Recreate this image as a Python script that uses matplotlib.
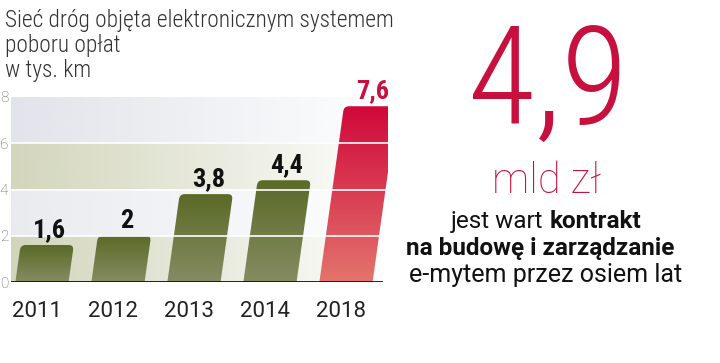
import numpy as np
import matplotlib.pyplot as plt
from matplotlib.patches import FancyBboxPatch
from matplotlib.transforms import Affine2D
from matplotlib.colors import LinearSegmentedColormap, to_rgb

# data
years = ['2011', '2012', '2013', '2014', '2018']
values = [1.6, 2.0, 3.8, 4.4, 7.6]
value_labels = ['1,6', '2', '3,8', '4,4', '7,6']
yticks = [0, 2, 4, 6, 8]
title_lines = ['Sieć dróg objęta elektronicznym systemem', 'poboru opłat', 'w tys. km']

CRIMSON = '#c8103e'
NARROW = ['Roboto Condensed', 'Liberation Sans Narrow', 'Roboto', 'DejaVu Sans']
PLAIN = ['Roboto', 'DejaVu Sans']

FW, FH = 720, 363


def fx(x):
    return x / FW


def fy(y):
    return 1 - y / FH


fig = plt.figure(figsize=(7.2, 3.63), dpi=100)
ax = fig.add_axes([fx(11), fy(282), 377 / FW, 185 / FH])
xlim = (-0.408, 4.553)
ax.set_xlim(*xlim)
ax.set_ylim(0, 8)
for s in ax.spines.values():
    s.set_visible(False)

# background bands fading to white on the right
bands = [(0, 2, '#d2d5bc'), (2, 4, '#e9ebef'), (4, 6, '#d3d6bc'), (6, 8, '#e1e4ea')]
fade = np.linspace(1, 0, 256) ** 0.9
for lo, hi, col in bands:
    rgba = np.ones((1, 256, 4))
    rgba[..., :3] = to_rgb(col)
    rgba[..., 3] = fade
    ax.imshow(rgba, extent=[xlim[0], xlim[1] - 0.05, lo, hi], aspect='auto',
              origin='lower', zorder=0, interpolation='bilinear')

# slanted bars: skew x by y in data space
px_x = 377 / (xlim[1] - xlim[0])
px_y = 185 / 8
k = 0.14 * px_y / px_x
skew = Affine2D(np.array([[1, k, 0], [0, 1, 0], [0, 0, 1]])) + ax.transData

green = LinearSegmentedColormap.from_list('g', ['#868c62', '#5a6a27'])
red = LinearSegmentedColormap.from_list('r', ['#e3746d', '#d0083a'])
bw = 0.70
r = 5 / px_x
grad = np.linspace(0, 1, 256).reshape(-1, 1)
for i, v in enumerate(values):
    cmap = red if i == len(values) - 1 else green
    p = FancyBboxPatch((i - bw / 2, -1), bw, v + 1,
                       boxstyle='round,pad=0,rounding_size=%f' % r,
                       mutation_aspect=px_x / px_y, transform=skew,
                       facecolor='none', edgecolor='none')
    ax.add_patch(p)
    im = ax.imshow(grad, extent=[i - bw / 2 - 0.05, i + bw / 2 + k * v + 0.05, 0, v],
                   aspect='auto', origin='lower', cmap=cmap, zorder=2)
    im.set_clip_path(p)
    col = CRIMSON if i == len(values) - 1 else '#111111'
    ax.text(i + k * v + 0.03, v + 0.35, value_labels[i], ha='center', va='baseline',
            fontsize=19, fontweight='bold', color=col, family=NARROW,
            clip_on=False, zorder=5)

ax.set_xlim(*xlim)
ax.set_ylim(0, 8)

for yv in yticks[1:-1]:
    ax.axhline(yv, color='white', lw=1.2, zorder=3)
ax.axhline(0, xmax=0.984, color='#111111', lw=1.3, zorder=4)

ax.set_xticks(np.arange(len(years)) - 0.065, years)
ax.set_yticks(yticks, [str(t) for t in yticks])
ax.tick_params(axis='x', length=0, pad=14, labelsize=16, labelcolor='#222222')
ax.tick_params(axis='y', length=0, pad=2, labelsize=11, labelcolor='#666666')
for lab in ax.get_xticklabels():
    lab.set_family(PLAIN)
for lab in ax.get_yticklabels():
    lab.set_family(PLAIN)
    lab.set_fontweight('light')

# title block
for j, line in enumerate(title_lines):
    fig.text(fx(5), fy(27 + 25 * j), line, ha='left', va='baseline', fontsize=16.8,
             family=NARROW, fontweight='light', color='#333333')

# right hand note
fig.text(fx(548), fy(125), '4,9', ha='center', va='baseline', fontsize=99,
         family=NARROW, fontweight='light', color=CRIMSON)
fig.text(fx(546), fy(193), 'mld zł', ha='center', va='baseline', fontsize=30,
         family=PLAIN, fontweight='light', color=CRIMSON)
fig.text(fx(543), fy(228), 'jest wart', ha='right', va='baseline', fontsize=17.5,
         family=PLAIN, color='#111111')
fig.text(fx(550), fy(228), 'kontrakt', ha='left', va='baseline', fontsize=17.5,
         family=PLAIN, fontweight='bold', color='#111111')
fig.text(fx(540), fy(255), 'na budowę i zarządzanie', ha='center', va='baseline',
         fontsize=17.5, family=PLAIN, fontweight='bold', color='#111111')
fig.text(fx(546), fy(282), 'e-mytem przez osiem lat', ha='center', va='baseline',
         fontsize=18, family=PLAIN, color='#111111')

fig.savefig('out.png', dpi=100)
